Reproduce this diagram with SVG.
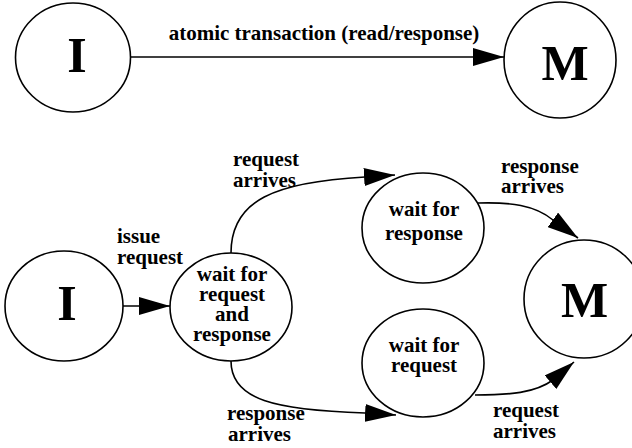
<svg xmlns="http://www.w3.org/2000/svg" width="632" height="448" viewBox="0 0 632 448">
<style>
.n{fill:#fff;stroke:#000;stroke-width:1.6}
.t{font-family:"Liberation Serif","Times New Roman",serif;font-weight:bold;font-size:21px;fill:#000}
.big{font-family:"Liberation Serif","Times New Roman",serif;font-weight:bold;font-size:50px;fill:#000;text-anchor:middle}
.c{text-anchor:middle}
.e{fill:none;stroke:#000;stroke-width:1.6;marker-end:url(#ah)}
</style>
<defs>
<marker id="ah" markerWidth="31" markerHeight="18" refX="31" refY="9" orient="auto" markerUnits="userSpaceOnUse">
<path d="M0,0 L31,9 L0,18 z" fill="#000"/>
</marker>
</defs>
<g id="edges">
<path class="e" d="M131,57 L504,57"/>
<text class="t c" x="324" y="40">atomic transaction (read/response)</text>
<path class="e" d="M123,306 L170,306"/>
<text class="t" x="117" y="243">issue</text>
<text class="t" x="117" y="264">request</text>
<path class="e" d="M231,253 C231,200 275,182 365,177 L395,175"/>
<text class="t" x="233" y="166">request</text>
<text class="t" x="233" y="187">arrives</text>
<path class="e" d="M231,361 C231,400 275,410 365,413 L396,415"/>
<text class="t" x="227" y="420">response</text>
<text class="t" x="228" y="441">arrives</text>
<path class="e" d="M478,203 C510,202 535,205 553,220 L578,238"/>
<text class="t" x="501" y="173">response</text>
<text class="t" x="501" y="193">arrives</text>
<path class="e" d="M475,395 C510,395 535,393 553,380 L574,362"/>
<text class="t" x="493" y="417">request</text>
<text class="t" x="493" y="438">arrives</text>
</g>
<g id="topI">
<ellipse class="n" cx="73" cy="57.5" rx="57.5" ry="54.5"/>
<text class="big" x="77" y="72">I</text>
</g>
<g id="topM">
<ellipse class="n" cx="560" cy="60" rx="56" ry="58"/>
<text class="big" x="565" y="80">M</text>
</g>
<g id="botI">
<ellipse class="n" cx="64" cy="306" rx="59" ry="55"/>
<text class="big" x="67" y="320">I</text>
</g>
<g id="waitBoth">
<ellipse class="n" cx="231" cy="307" rx="61" ry="54"/>
<text class="t c" x="232" y="281">wait for</text>
<text class="t c" x="232" y="301">request</text>
<text class="t c" x="232" y="321">and</text>
<text class="t c" x="232" y="341">response</text>
</g>
<g id="waitResponse">
<ellipse class="n" cx="423" cy="228" rx="61" ry="55"/>
<text class="t c" x="424" y="216">wait for</text>
<text class="t c" x="424" y="240">response</text>
</g>
<g id="waitRequest">
<ellipse class="n" cx="423" cy="363" rx="61" ry="54"/>
<text class="t c" x="424" y="352">wait for</text>
<text class="t c" x="424" y="372">request</text>
</g>
<g id="botM">
<ellipse class="n" cx="584" cy="299" rx="60" ry="59"/>
<text class="big" x="584.5" y="317">M</text>
</g>
</svg>
